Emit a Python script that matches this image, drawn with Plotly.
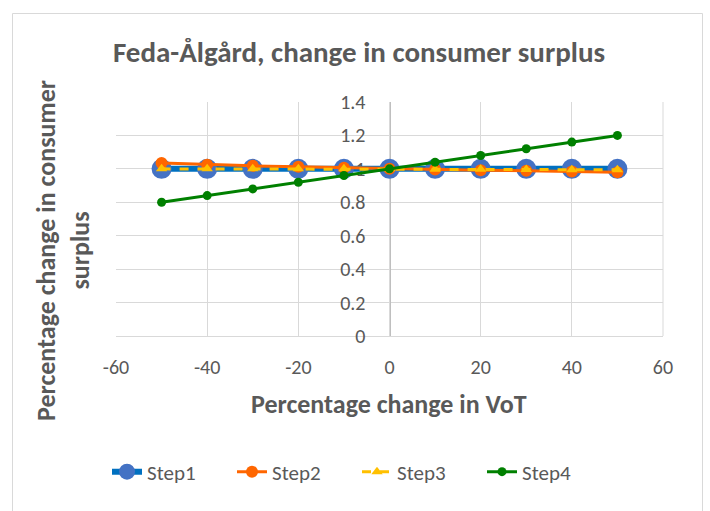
import plotly.graph_objects as go

vot_change = [-50, -40, -30, -20, -10, 0, 10, 20, 30, 40, 50]
step1 = [1.0, 1.0, 1.0, 1.0, 1.0, 1.0, 1.0, 1.0, 1.0, 1.0, 1.0]
step2 = [1.035, 1.025, 1.018, 1.012, 1.006, 1.0, 0.996, 0.992, 0.988, 0.984, 0.98]
step3 = [1.0, 1.0, 1.0, 1.0, 1.0, 1.0, 0.998, 0.997, 0.996, 0.995, 0.994]
step4 = [0.8, 0.84, 0.88, 0.92, 0.96, 1.0, 1.04, 1.08, 1.12, 1.16, 1.2]

title_text = "Feda-Ålgård, change in consumer surplus"
x_title = "Percentage change in VoT"
y_title = "Percentage change in consumer<br>surplus"
x_ticks = [-60, -40, -20, 0, 20, 40, 60]
y_ticks = [0, 0.2, 0.4, 0.6, 0.8, 1, 1.2, 1.4]
y_ticklabels = ["0", "0.2", "0.4", "0.6", "0.8", "1", "1.2", "1.4"]

FONT = "Carlito, Calibri, Lato, sans-serif"
GREY = "#595959"

W, H = 710, 511
L, R, T, B = 116, 47, 102, 175
pw, ph = W - L - R, H - T - B


def px_to_paper_x(px):
    return (px - L) / pw


def px_to_paper_y(py):
    return (H - B - py) / ph


fig = go.Figure()
fig.add_trace(go.Scatter(
    x=vot_change, y=step1, name="Step1", mode="lines+markers",
    line=dict(color="#0070C0", width=6),
    marker=dict(color="#4472C4", size=20, symbol="circle"),
))
fig.add_trace(go.Scatter(
    x=vot_change, y=step2, name="Step2", mode="lines+markers",
    line=dict(color="#FF6600", width=3),
    marker=dict(color="#FF6600", size=12, symbol="circle"),
))
fig.add_trace(go.Scatter(
    x=vot_change, y=step3, name="Step3", mode="lines+markers",
    line=dict(color="#FFC000", width=3, dash="dash"),
    marker=dict(color="#FFC000", size=10, symbol="triangle-up"),
))
fig.add_trace(go.Scatter(
    x=vot_change, y=step4, name="Step4", mode="lines+markers",
    line=dict(color="#008000", width=3),
    marker=dict(color="#008000", size=9, symbol="circle"),
))

fig.update_layout(
    width=W, height=H,
    margin=dict(l=L, r=R, t=T, b=B),
    paper_bgcolor="white", plot_bgcolor="white",
    font=dict(family=FONT, color=GREY, size=20),
    showlegend=True,
    legend=dict(
        orientation="h", x=px_to_paper_x(107), xanchor="left",
        y=px_to_paper_y(472), yanchor="middle",
        font=dict(family=FONT, size=21, color=GREY),
        entrywidth=80, entrywidthmode="pixels",
        traceorder="normal", bgcolor="rgba(0,0,0,0)",
    ),
    xaxis=dict(
        range=[-60, 60], tickvals=x_ticks, ticktext=[str(v) for v in x_ticks],
        showgrid=True, gridcolor="#D9D9D9", gridwidth=1,
        zeroline=False, showline=True, linecolor="#D9D9D9", linewidth=1,
        ticks="", ticklabelstandoff=13, tickfont=dict(size=20, color=GREY),
        layer="below traces", mirror=False,
    ),
    yaxis=dict(
        range=[0, 1.4], tickvals=y_ticks, ticktext=y_ticklabels,
        showgrid=True, gridcolor="#D9D9D9", gridwidth=1,
        zeroline=False, showline=True, linecolor="#BFBFBF", linewidth=1,
        anchor="free", position=0.5,
        ticks="", ticklabelstandoff=20, tickfont=dict(size=20, color=GREY),
        layer="below traces",
    ),
    title=dict(
        text="<b>" + title_text + "</b>",
        x=359 / W, xanchor="center", xref="container",
        y=1 - 52 / H, yanchor="middle", yref="container",
        font=dict(family=FONT, size=29, color=GREY),
    ),
    annotations=[
        dict(
            text="<b>" + x_title + "</b>", xref="paper", yref="paper",
            x=px_to_paper_x(389), y=px_to_paper_y(404),
            xanchor="center", yanchor="middle", showarrow=False,
            font=dict(family=FONT, size=26, color=GREY),
        ),
        dict(
            text="<b>" + y_title + "</b>", xref="paper", yref="paper",
            x=px_to_paper_x(63), y=px_to_paper_y(251),
            xanchor="center", yanchor="middle", showarrow=False, textangle=-90,
            font=dict(family=FONT, size=26, color=GREY),
        ),
    ],
    shapes=[
        dict(
            type="rect", xref="paper", yref="paper",
            x0=px_to_paper_x(12.5), x1=px_to_paper_x(702.5),
            y0=px_to_paper_y(530), y1=px_to_paper_y(13.5),
            line=dict(color="#D9D9D9", width=1), fillcolor="rgba(0,0,0,0)",
            layer="below",
        ),
        dict(
            type="line", xref="paper", yref="paper",
            x0=1, x1=1, y0=0, y1=1,
            line=dict(color="#D9D9D9", width=1), layer="below",
        ),
    ],
)

fig.write_html(
    "out.html",
    config={"displayModeBar": False},
    post_script="document.body.style.margin='0';",
)
